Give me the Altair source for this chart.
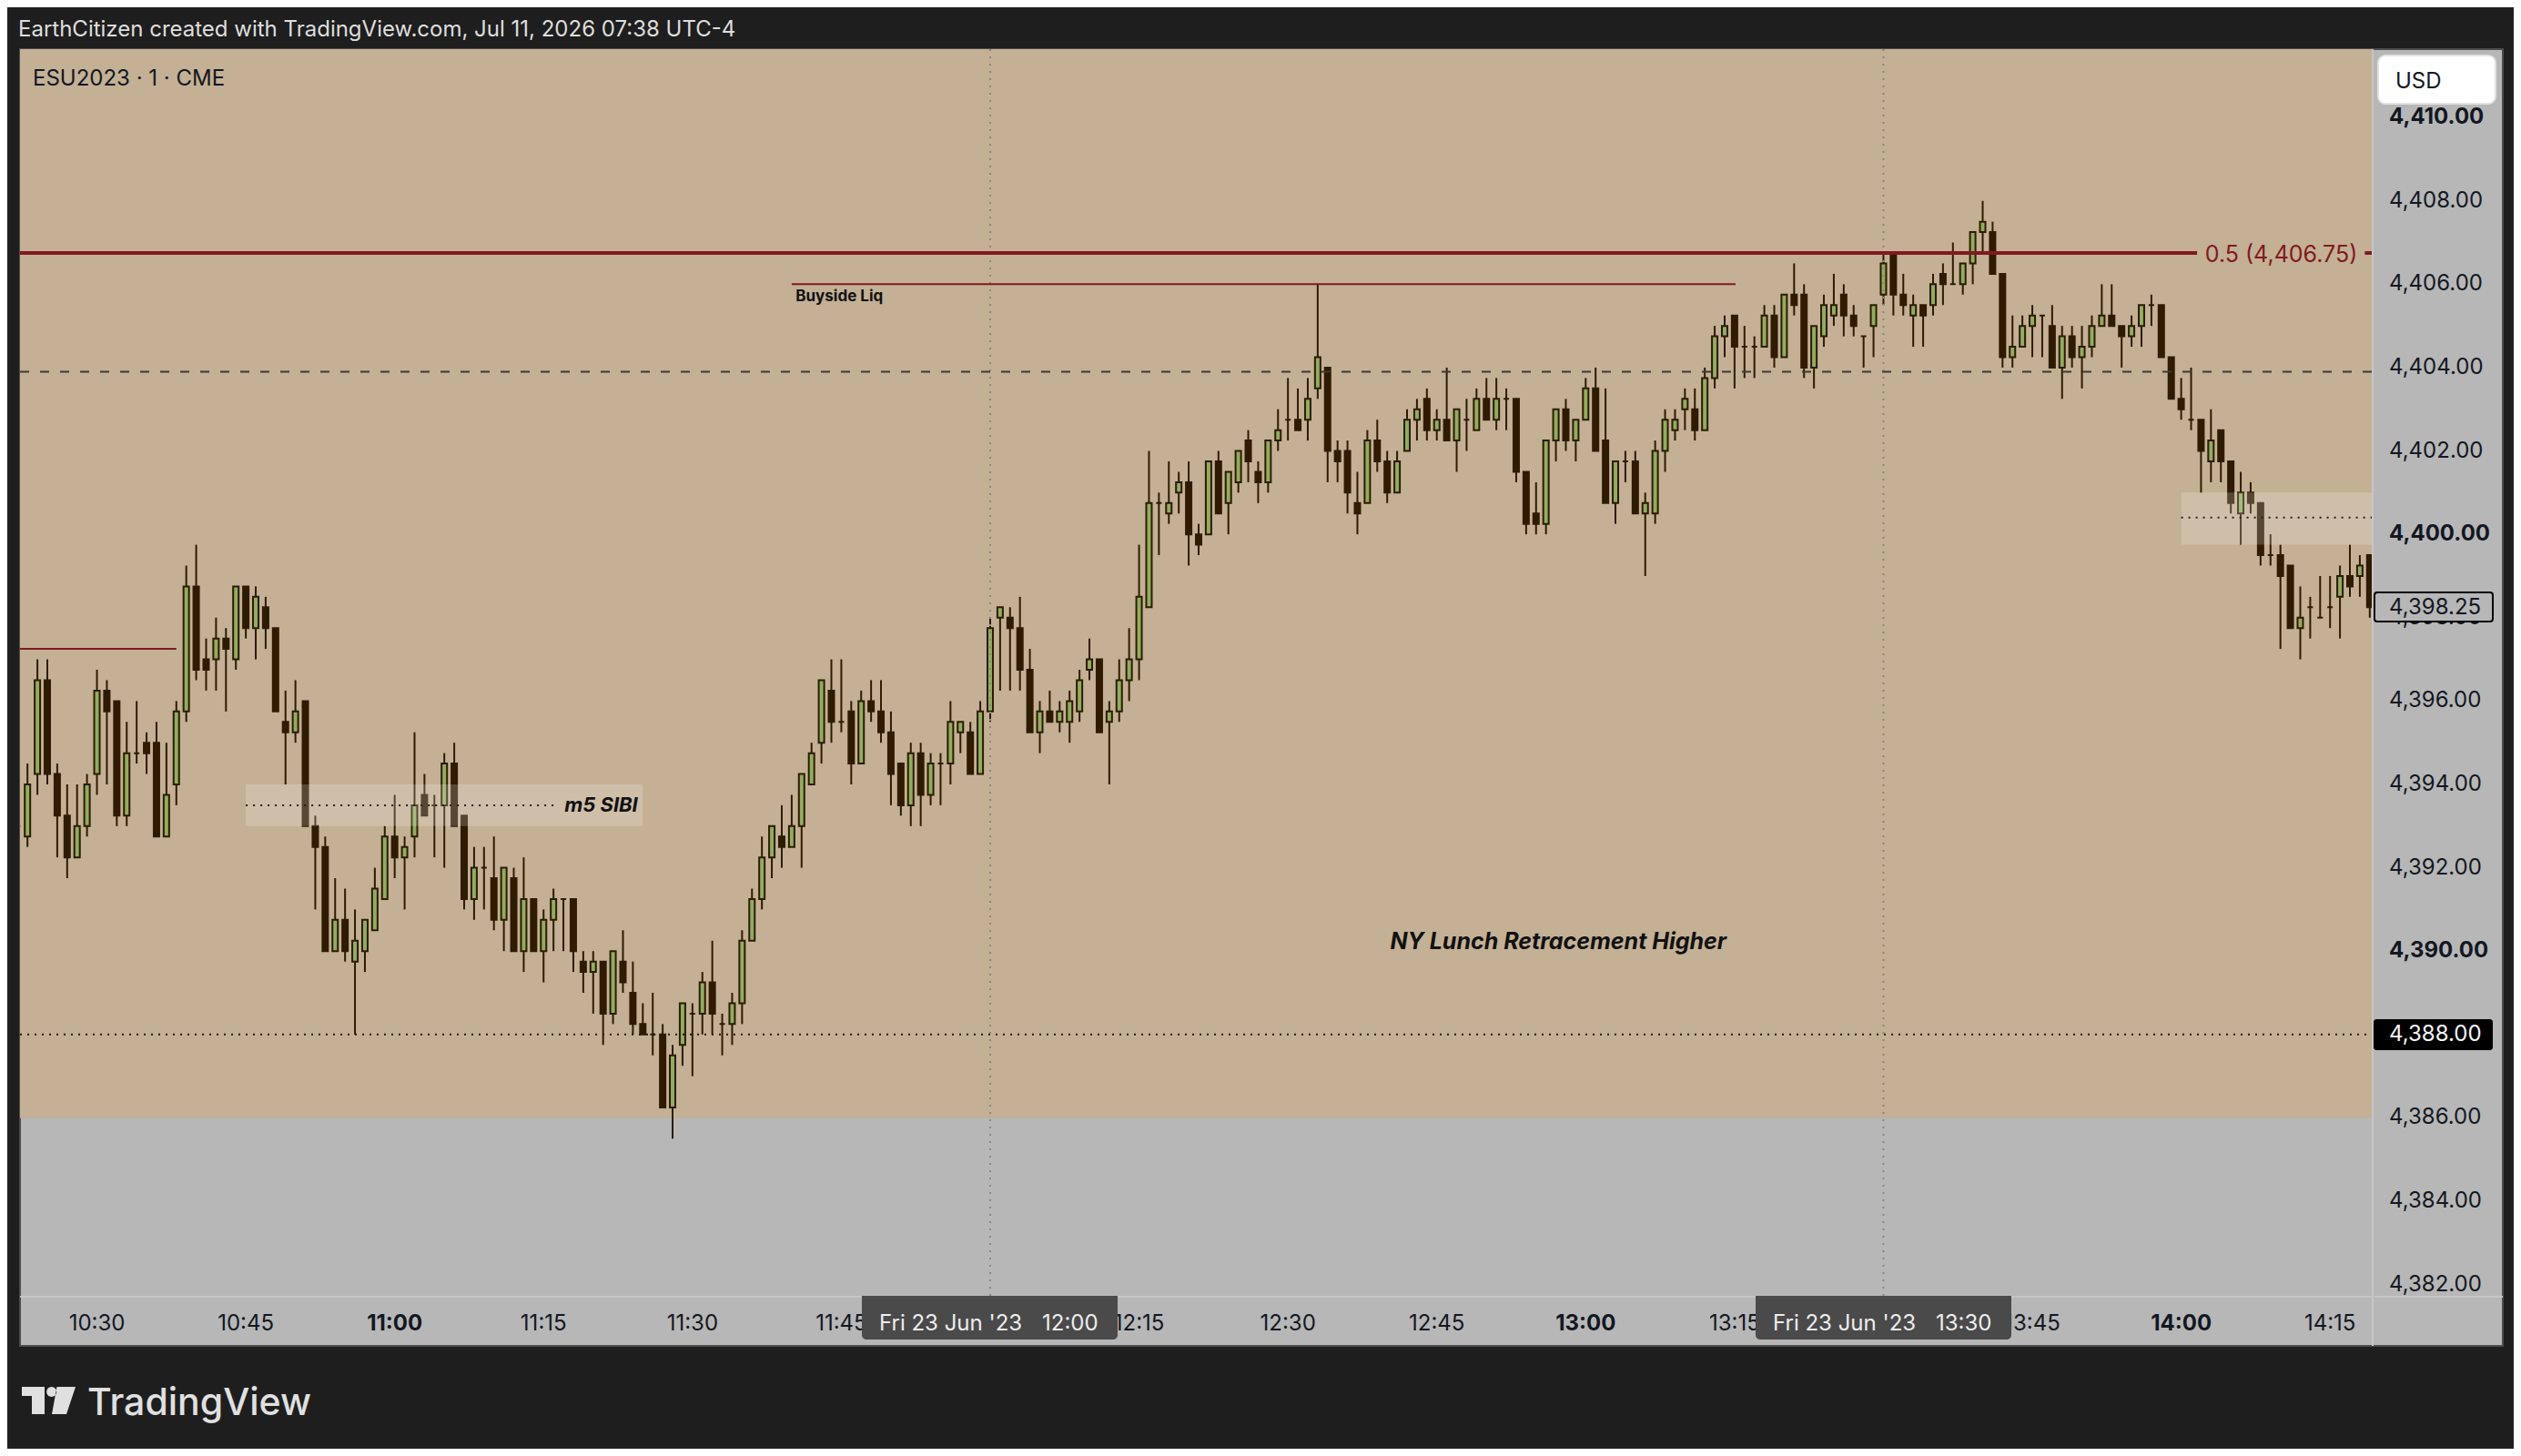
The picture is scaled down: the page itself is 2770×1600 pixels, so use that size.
import pandas as pd
import altair as alt

FONT = "Inter"
BG_DARK = "#1e1e1e"
TAN = "#c4b094"
PANEL_GRAY = "#b7b7b7"
CANDLE_DARK = "#2e1b00"
CANDLE_GREEN = "#8fae5f"
LINE_RED = "#801922"

# one bar per minute, first bar is 10:22 (minutes after midnight)
FIRST_MINUTE = 622

opens = [
    4393, 4392.75, 4394.25, 4396.5, 4394.25, 4393.25, 4392.25, 4393, 4394.25, 4396.25,
    4396, 4393.25, 4394.75, 4395, 4395, 4392.75, 4394, 4395.75, 4398.75, 4397,
    4397, 4397.5, 4397, 4398.75, 4397.75, 4398.25, 4397.75, 4395.5, 4395.25, 4396,
    4393, 4392.5, 4390, 4390.75, 4389.75, 4390, 4390.5, 4391.25, 4392.75, 4392.25,
    4392.75, 4393.75, 4393.5, 4393.5, 4394.5, 4393.25, 4391.25, 4392, 4391.75, 4390.75,
    4391.75, 4390, 4391.25, 4390, 4390.75, 4391.25, 4391.25, 4389.75, 4389.5, 4389.75,
    4388.5, 4389.75, 4389, 4388.25, 4388, 4388, 4386.25, 4387.75, 4388.5, 4388.5,
    4389.25, 4388.25, 4388.25, 4388.75, 4390.25, 4391.25, 4392.25, 4392.75, 4392.5, 4393,
    4394, 4395, 4396.25, 4395.5, 4395.75, 4394.5, 4396, 4395.75, 4395.25, 4394.5,
    4393.5, 4394.75, 4393.75, 4394.5, 4394.5, 4395.25, 4395.25, 4394.25, 4395.75, 4398,
    4398, 4397.75, 4396.75, 4395.25, 4395.75, 4395.5, 4395.5, 4395.75, 4396.75, 4397,
    4395.5, 4395.75, 4396.5, 4397, 4398.25, 4400.75, 4400.5, 4401, 4401.25, 4400,
    4400, 4401.75, 4400.75, 4401.25, 4402.25, 4401.5, 4401.25, 4402.25, 4402.75, 4402.75,
    4402.75, 4403.5, 4404, 4402, 4402, 4400.75, 4400.75, 4402.25, 4401.75, 4401,
    4402, 4402.75, 4403.25, 4402.5, 4402.75, 4402.25, 4402.75, 4402.5, 4403.25, 4402.75,
    4403.25, 4403.25, 4401.5, 4400.5, 4400.25, 4402.25, 4403, 4402.25, 4402.75, 4403.5,
    4402.25, 4400.75, 4401.75, 4401.75, 4400.5, 4400.5, 4402, 4402.5, 4403, 4403,
    4402.5, 4403.75, 4404.75, 4405.25, 4404.5, 4404.5, 4404.5, 4405.25, 4404.25, 4405.75,
    4405.75, 4404, 4404.75, 4405.25, 4405.75, 4405.25, 4404.75, 4405, 4405.75, 4406.75,
    4405.75, 4405.25, 4405.5, 4405.5, 4406.25, 4406, 4406, 4406.5, 4407.25, 4407.25,
    4406.25, 4404.25, 4404.5, 4405, 4405.25, 4405, 4404, 4404.75, 4404.25, 4404.5,
    4405, 4405.25, 4405, 4404.75, 4405, 4405.5, 4405.5, 4404.25, 4403.25, 4402.75,
    4402.75, 4401.75, 4402.5, 4401.75, 4400.5, 4401, 4400.75, 4399.5, 4399.5, 4399.25,
    4397.75, 4398.25, 4398, 4398.25, 4398.5, 4399, 4399, 4399.5,
]
closes = [
    4393, 4394, 4396.5, 4394.25, 4393.25, 4392.25, 4393, 4394, 4396.25, 4395.75,
    4393.25, 4394.75, 4394.75, 4394.75, 4392.75, 4393.75, 4395.75, 4398.75, 4396.75, 4396.75,
    4397.5, 4397.25, 4398.75, 4397.75, 4398.5, 4397.75, 4395.75, 4395.25, 4395.75, 4393,
    4392.5, 4390, 4390.75, 4390, 4390.25, 4390.75, 4391.5, 4392.75, 4392.25, 4392.5,
    4393.5, 4393.25, 4393.5, 4394.5, 4393, 4391.25, 4392, 4392, 4390.75, 4392,
    4390, 4391.25, 4390, 4390.75, 4391.25, 4391.25, 4390, 4389.5, 4389.75, 4388.5,
    4390, 4389.25, 4388.25, 4388, 4388, 4386.25, 4387.5, 4388.75, 4388.5, 4389.25,
    4388.5, 4388.25, 4388.75, 4390.25, 4391.25, 4392.25, 4393, 4392.5, 4393, 4394.25,
    4394.75, 4396.5, 4395.5, 4395.5, 4394.5, 4396, 4395.75, 4395.25, 4394.25, 4393.5,
    4394.75, 4393.75, 4394.5, 4394.5, 4395.5, 4395.5, 4394.25, 4395.75, 4397.75, 4398.25,
    4397.75, 4396.75, 4395.25, 4395.75, 4395.5, 4395.75, 4396, 4396.5, 4397, 4395.25,
    4395.75, 4396.5, 4397, 4398.5, 4400.75, 4400.75, 4400.75, 4401.25, 4400, 4399.75,
    4401.75, 4400.5, 4401.5, 4402, 4401.75, 4401.25, 4402.25, 4402.5, 4402.75, 4402.5,
    4403.25, 4404.25, 4402, 4401.75, 4401, 4400.5, 4402.25, 4401.75, 4401, 4401.75,
    4402.75, 4403, 4402.5, 4402.75, 4402.25, 4403, 4402.75, 4403.25, 4402.75, 4403.25,
    4403.25, 4401.5, 4400.25, 4400.25, 4402.25, 4403, 4402.25, 4402.75, 4403.5, 4402,
    4400.75, 4401.75, 4401.75, 4400.5, 4400.75, 4402, 4402.75, 4402.75, 4403.25, 4402.5,
    4403.75, 4404.75, 4405, 4404.5, 4404.5, 4404.5, 4405.25, 4404.25, 4405.75, 4405.5,
    4404, 4405, 4405.5, 4405.5, 4405.25, 4405, 4404.75, 4405.5, 4406.5, 4405.75,
    4405.5, 4405.5, 4405.25, 4406, 4406, 4406, 4406.5, 4407.25, 4407.5, 4406.25,
    4404.25, 4404.5, 4405, 4405.25, 4405.25, 4404, 4404.75, 4404.25, 4404.5, 4405,
    4405.25, 4405, 4404.75, 4405, 4405.5, 4405.5, 4404.25, 4403.25, 4403, 4402.75,
    4402, 4402.25, 4401.75, 4400.75, 4401, 4400.75, 4399.5, 4399.5, 4399, 4397.75,
    4398, 4398.25, 4398, 4398.25, 4399, 4398.75, 4399.25, 4398.25,
]
highs = [
    4393, 4394.5, 4397, 4397, 4394.5, 4394, 4394, 4394.25, 4396.75, 4396.5,
    4396, 4395.5, 4396, 4395.25, 4395.5, 4395, 4396, 4399.25, 4399.75, 4397.5,
    4398, 4397.75, 4398.75, 4398.75, 4398.75, 4398.5, 4397.75, 4396.25, 4396.5, 4396,
    4393.25, 4392.75, 4391.75, 4391.5, 4391, 4390.75, 4392, 4393, 4393.75, 4392.75,
    4395.25, 4394.25, 4393.75, 4394.75, 4395, 4393.25, 4392.5, 4392.5, 4392.75, 4392,
    4392, 4392.25, 4391.25, 4391, 4391.5, 4391.25, 4391.25, 4390, 4390, 4389.75,
    4390, 4390.5, 4389.75, 4388.75, 4389, 4388.25, 4387.75, 4388.75, 4388.75, 4389.5,
    4390.25, 4388.5, 4389, 4390.5, 4391.5, 4392.75, 4393, 4393.5, 4393.75, 4394.25,
    4395, 4396.5, 4397, 4397, 4396, 4396.25, 4396.5, 4396.5, 4395.75, 4394.5,
    4395, 4395, 4394.75, 4394.75, 4396, 4395.5, 4395.5, 4396, 4398, 4398.25,
    4398.25, 4398.5, 4397.25, 4396, 4396.25, 4396, 4396.25, 4396.75, 4397.5, 4397,
    4396, 4397, 4397.75, 4399.75, 4402, 4401, 4401.75, 4401.5, 4401.75, 4400.25,
    4401.75, 4402, 4401.5, 4402, 4402.5, 4401.75, 4402.25, 4403, 4403.75, 4403.5,
    4403.75, 4406, 4404, 4402.25, 4402.25, 4401.5, 4402.5, 4402.75, 4402, 4402,
    4403, 4403.25, 4403.5, 4403, 4404, 4403, 4403.25, 4403.5, 4403.75, 4403.75,
    4403.5, 4403.25, 4401.5, 4401.25, 4402.25, 4403, 4403.25, 4402.75, 4403.75, 4404,
    4403.5, 4401.75, 4402, 4402, 4401, 4402.25, 4403, 4403, 4403.5, 4403.5,
    4404, 4405, 4405.25, 4405.25, 4405, 4404.75, 4405.5, 4405.5, 4405.75, 4406.5,
    4406, 4405, 4405.75, 4406.25, 4406, 4405.5, 4404.75, 4405.5, 4406.75, 4406.75,
    4406.25, 4405.75, 4405.5, 4406.25, 4406.5, 4407, 4406.5, 4407.25, 4408, 4407.5,
    4406.25, 4405.25, 4405.25, 4405.5, 4405.25, 4405.5, 4405, 4405, 4405, 4405.25,
    4406, 4406, 4405, 4405.25, 4405.5, 4405.75, 4405.5, 4404.25, 4403.75, 4404,
    4402.75, 4403, 4402.5, 4401.75, 4401.5, 4401.25, 4400.75, 4400, 4399.75, 4399.25,
    4398.75, 4398.5, 4399, 4399, 4399.25, 4399.75, 4399.5, 4399.5,
]
lows = [
    4393, 4392.5, 4393.75, 4394, 4392.25, 4391.75, 4392.25, 4392.75, 4393.75, 4394,
    4393, 4393, 4394.5, 4394.25, 4392.75, 4392.75, 4393.5, 4395.5, 4396.5, 4396.25,
    4396.25, 4395.75, 4396.75, 4397.5, 4397, 4397.25, 4395.75, 4394, 4395, 4393,
    4391, 4390, 4390, 4389.75, 4388, 4389.5, 4390.5, 4391.25, 4391.75, 4391,
    4392.25, 4393.25, 4392.25, 4392, 4393, 4391, 4390.75, 4391, 4390.5, 4390,
    4390, 4389.5, 4390, 4389.25, 4390, 4390, 4389.5, 4389, 4388.5, 4387.75,
    4388.25, 4389, 4388, 4388, 4387.5, 4386.25, 4385.5, 4387.25, 4387, 4388,
    4388, 4387.5, 4387.75, 4388.25, 4390.25, 4391, 4391.75, 4392, 4392.5, 4392,
    4394, 4394.5, 4395, 4395.25, 4394, 4394.5, 4395.5, 4395, 4393.5, 4393.25,
    4393, 4393, 4393.5, 4393.5, 4394, 4394.75, 4394.25, 4394.25, 4395.5, 4396.25,
    4396.25, 4396.25, 4395.25, 4394.75, 4395.5, 4395.25, 4395, 4395.5, 4396.5, 4395.25,
    4394, 4395.5, 4396, 4396.5, 4398.25, 4399.5, 4400.25, 4400.5, 4399.25, 4399.5,
    4400, 4400.5, 4400, 4401, 4401.25, 4400.75, 4401, 4402, 4402.25, 4402.5,
    4402.25, 4403.25, 4401.25, 4401.25, 4400.5, 4400, 4400.75, 4401.5, 4400.75, 4401,
    4402, 4402.25, 4402.25, 4402.25, 4402.25, 4401.5, 4402, 4402.5, 4402.75, 4402.5,
    4402.5, 4401.25, 4400, 4400, 4400, 4401.75, 4402, 4401.75, 4402.75, 4402,
    4400.75, 4400.25, 4401.25, 4400.5, 4399, 4400.25, 4401.5, 4402.25, 4402.5, 4402.25,
    4402.5, 4403.5, 4404.25, 4403.5, 4403.75, 4403.75, 4404.5, 4404, 4404.25, 4405.25,
    4403.75, 4403.5, 4404.5, 4405, 4404.75, 4404.75, 4404, 4404.25, 4405.5, 4405.25,
    4405.25, 4404.5, 4404.5, 4405.25, 4405.5, 4406, 4405.75, 4406, 4406.75, 4406.25,
    4404, 4404, 4404.5, 4404.25, 4404.25, 4404, 4403.25, 4404, 4403.5, 4404.25,
    4405, 4405, 4404, 4404.5, 4404.5, 4405, 4404.25, 4403.25, 4402.75, 4402.5,
    4401, 4401.25, 4401.25, 4400.5, 4399.75, 4400.5, 4399.25, 4399.25, 4397.25, 4397.75,
    4397, 4397.5, 4398, 4397.75, 4397.5, 4398.5, 4398.5, 4398,
]

price_ticks = [4382, 4384, 4386, 4390, 4392, 4394, 4396, 4398, 4400, 4402, 4404, 4406, 4408, 4410]
time_ticks = [630, 645, 660, 675, 690, 705, 735, 750, 765, 780, 795, 825, 840, 855]
time_labels = ["10:30", "10:45", "11:00", "11:15", "11:30", "11:45", "12:15", "12:30",
               "12:45", "13:00", "13:15", "13:45", "14:00", "14:15"]

# page pixels of the pane, the chart itself starts at 8,8
PANE_LEFT, PANE_TOP, PANE_RIGHT, PANE_BOTTOM = 22, 54, 2606, 1424
MIN_AT_LEFT, MIN_AT_RIGHT = 622.25, 859.2
PRICE_AT_TOP, PRICE_AT_BOTTOM = 4411.64, 4381.73

# padding=0, bars would otherwise inset a continuous x scale
x_scale = alt.Scale(domain=[MIN_AT_LEFT, MIN_AT_RIGHT], nice=False, zero=False, padding=0)
y_scale = alt.Scale(domain=[PRICE_AT_BOTTOM, PRICE_AT_TOP], nice=False, zero=False)
X = alt.X("t:Q", scale=x_scale, axis=None)
Y = alt.Y("p:Q", scale=y_scale, axis=None)


def px(page_x):
    return alt.value(page_x - PANE_LEFT)


def py(page_y):
    return alt.value(page_y - PANE_TOP)


one = alt.Data(values=[{"a": 1}])


def box(x0, x1, y0, y1, **mark):
    # chrome drawn in page pixels: panels, tags, the USD button
    return alt.Chart(one).mark_rect(**mark).encode(x=px(x0), x2=px(x1), y=py(y0), y2=py(y1))


def label(text, x, y, **mark):
    mark = {"font": FONT, "baseline": "middle", "align": "left", **mark}
    return alt.Chart(one).mark_text(text=text, **mark).encode(x=px(x), y=py(y))


candles = pd.DataFrame({"o": opens, "c": closes, "h": highs, "l": lows})
candles["t"] = FIRST_MINUTE + candles.index
up = candles[candles.c > candles.o]
down = candles[candles.c <= candles.o]

wicks = alt.Chart(candles).mark_rule(color=CANDLE_DARK, strokeWidth=2, clip=True).encode(
    x=X, y=alt.Y("h:Q", scale=y_scale, axis=None), y2="l:Q")
up_bodies = alt.Chart(up).mark_bar(size=6, fill=CANDLE_GREEN, stroke=CANDLE_DARK, strokeWidth=2,
                                   clip=True).encode(
    x=X, y=alt.Y("o:Q", scale=y_scale, axis=None), y2="c:Q")
down_bodies = alt.Chart(down).mark_bar(size=6, fill=CANDLE_DARK, stroke=CANDLE_DARK, strokeWidth=2,
                                       clip=True).encode(
    x=X, y=alt.Y("o:Q", scale=y_scale, axis=None), y2="c:Q")

# tan session area, everything under 4,386 stays gray
session = pd.DataFrame({"t": [MIN_AT_LEFT], "t2": [MIN_AT_RIGHT], "p": [4386], "p2": [PRICE_AT_TOP]})
session_rect = alt.Chart(session).mark_rect(color=TAN).encode(x=X, x2="t2:Q", y=Y, y2="p2:Q")

# m5 SIBI and the zone on the right, painted over the candles
zones = pd.DataFrame({"t": [645, 840], "t2": [685, MIN_AT_RIGHT], "p": [4393, 4399.75], "p2": [4394, 4401]})
zone_rects = alt.Chart(zones).mark_rect(color="white", opacity=0.2).encode(x=X, x2="t2:Q", y=Y, y2="p2:Q")


def hline(t0, t1, price, **mark):
    d = pd.DataFrame({"t": [t0], "t2": [t1], "p": [price]})
    return alt.Chart(d).mark_rule(**mark).encode(x=X, x2="t2:Q", y=Y)


zone_mids = [
    hline(645, 676, 4393.5, color="#222222", strokeWidth=2, strokeDash=[2, 6]),
    hline(840, MIN_AT_RIGHT, 4400.4, color="#222222", strokeWidth=2, strokeDash=[2, 6]),
]
low_line = hline(MIN_AT_LEFT, MIN_AT_RIGHT, 4388, color="#1a1a1a", strokeWidth=2, strokeDash=[2, 6])
dash_line = hline(MIN_AT_LEFT, MIN_AT_RIGHT, 4403.9, color="#3a3a3a", strokeWidth=2, strokeDash=[10, 12])
fib_lines = [
    hline(MIN_AT_LEFT, 841.6, 4406.75, color=LINE_RED, strokeWidth=4),
    hline(858.5, MIN_AT_RIGHT, 4406.75, color=LINE_RED, strokeWidth=4),
]
liq_line = hline(700, 795.1, 4406, color=LINE_RED, strokeWidth=2)
old_line = hline(MIN_AT_LEFT, 638, 4397.25, color=LINE_RED, strokeWidth=2)

session_marks = pd.DataFrame({"t": [720, 810]})
verticals = alt.Chart(session_marks).mark_rule(color="#888888", strokeWidth=2, strokeDash=[2, 6]).encode(
    x=X, y=py(PANE_TOP), y2=py(PANE_BOTTOM))


def note(text, t, price, **mark):
    mark = {"font": FONT, "baseline": "middle", "align": "left", **mark}
    d = pd.DataFrame({"t": [t], "p": [price]})
    return alt.Chart(d).mark_text(text=text, **mark).encode(x=X, y=Y)


notes = [
    note("Buyside Liq", 700.4, 4405.7, fontSize=17, fontWeight="bold", color="#111111"),
    note("m5 SIBI", 677.1, 4393.5, fontSize=22, fontWeight="bold", fontStyle="italic", color="#111111"),
    note("NY Lunch Retracement Higher", 760.3, 4390.22, fontSize=25, fontWeight="bold",
         fontStyle="italic", color="#111111"),
    note("0.5 (4,406.75)", 842.4, 4406.7, fontSize=25, color=LINE_RED),
]

prices = pd.DataFrame({"p": price_ticks})
prices["txt"] = prices.p.map(lambda v: f"{v:,.2f}")
price_text = alt.Chart(prices[prices.p % 10 != 0]).mark_text(
    font=FONT, fontSize=24, align="left", baseline="middle", color="#131722").encode(
    x=px(2625), y=Y, text="txt:N")
price_bold = alt.Chart(prices[prices.p % 10 == 0]).mark_text(
    font=FONT, fontSize=24, fontWeight="bold", align="left", baseline="middle", color="#131722").encode(
    x=px(2625), y=Y, text="txt:N")

times = pd.DataFrame({"t": time_ticks, "txt": time_labels})
time_text = alt.Chart(times[times.t % 60 != 0]).mark_text(
    font=FONT, fontSize=24, baseline="middle", color="#131722").encode(
    x=X, y=py(1455), text="txt:N")
time_bold = alt.Chart(times[times.t % 60 == 0]).mark_text(
    font=FONT, fontSize=24, fontWeight="bold", baseline="middle", color="#131722").encode(
    x=X, y=py(1455), text="txt:N")

logo_path = ("M-1 -0.508 H-0.153 V0.508 H-0.627 V-0.17 H-1 Z "
             "M-0.078 -0.322 a0.186 0.186 0 1 0 0.372 0 a0.186 0.186 0 1 0 -0.372 0 Z "
             "M0.305 -0.508 H1 L0.661 0.508 H0.119 Z")
logo = alt.Chart(one).mark_point(shape=logo_path, filled=True, size=3481, color="#e0e0e0",
                                 opacity=1, strokeWidth=0).encode(x=px(53.5), y=py(1539))

layers = [
    box(PANE_LEFT, 2750, PANE_TOP, 1479, color=PANEL_GRAY, stroke="#4c4c4c", strokeWidth=2),
    session_rect,
    wicks, up_bodies, down_bodies,
    zone_rects,
    box(PANE_RIGHT, PANE_RIGHT + 2, PANE_TOP, 1479, color="#c6c6c6"),
    box(PANE_LEFT, 2750, PANE_BOTTOM, PANE_BOTTOM + 2, color="#c6c6c6"),
    verticals,
    *zone_mids, low_line, dash_line, *fib_lines, liq_line, old_line,
    *notes,
    price_text, price_bold, time_text, time_bold,
    label("EarthCitizen created with TradingView.com, Jul 11, 2026 07:38 UTC-4", 20, 33,
          fontSize=24, color="#dedede"),
    label("ESU2023 · 1 · CME", 36, 87, fontSize=24, color="#131722"),
    # last price tag, level tag, date tags and currency button sit on top of the scale
    box(2609, 2739, 651, 683, color=PANEL_GRAY, stroke="#000000", strokeWidth=2, cornerRadius=3),
    label("4,398.25", 2625, 667.5, fontSize=24, color="#131722"),
    box(2608, 2739, 1120, 1154, color="#000000", cornerRadius=3),
    label("4,388.00", 2625, 1137, fontSize=24, color="#f5f5f5"),
    box(947, 1228, 1424, 1472, color="#4a4a4a", cornerRadiusBottomLeft=5, cornerRadiusBottomRight=5),
    label("Fri 23 Jun '23", 966, 1454.5, fontSize=24, color="#eeeeee"),
    label("12:00", 1145, 1454.5, fontSize=24, color="#eeeeee"),
    box(1929, 2210, 1424, 1472, color="#4a4a4a", cornerRadiusBottomLeft=5, cornerRadiusBottomRight=5),
    label("Fri 23 Jun '23", 1948, 1454.5, fontSize=24, color="#eeeeee"),
    label("13:30", 2127, 1454.5, fontSize=24, color="#eeeeee"),
    box(2613, 2742, 61, 114, color="#ffffff", stroke="#e2e2e2", strokeWidth=2, cornerRadius=8),
    label("USD", 2632, 90, fontSize=24, color="#131722"),
    logo,
    label("TradingView", 96, 1543, fontSize=41, fontWeight=500, color="#e0e0e0"),
]

chart = alt.layer(*layers).properties(
    width=PANE_RIGHT - PANE_LEFT,
    height=PANE_BOTTOM - PANE_TOP,
    background=BG_DARK,
    padding={"left": PANE_LEFT - 8, "top": PANE_TOP - 8, "right": 2762 - PANE_RIGHT, "bottom": 1592 - PANE_BOTTOM},
    autosize=alt.AutoSizeParams(type="none"),
).configure_view(strokeWidth=0)

chart.save("out.html", embed_options={"renderer": "svg", "actions": False})
